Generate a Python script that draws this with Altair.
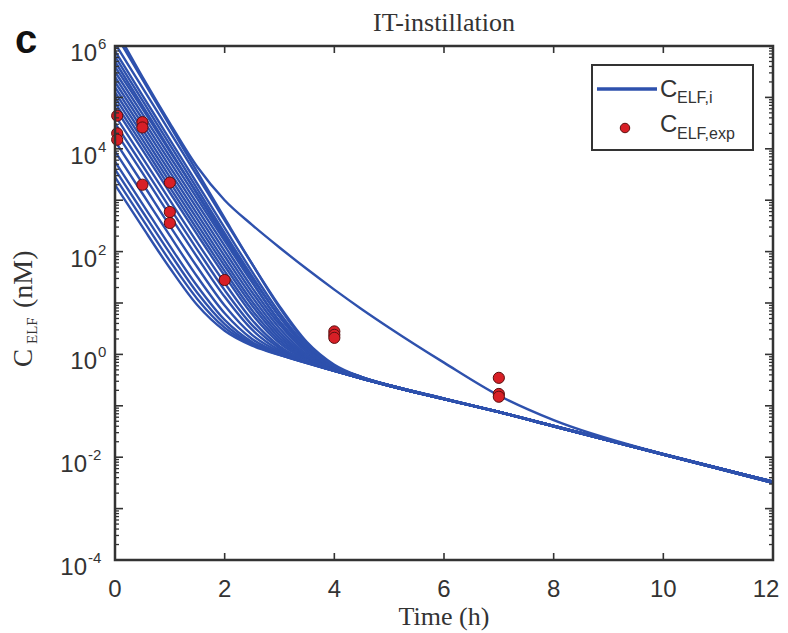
import altair as alt
import pandas as pd

W, H = 658, 514
BLUE = "#2e51ad"
RED = "#d81f26"
AX = "#333333"
SANS = "Liberation Sans"
SERIF = "Liberation Serif"

# time grid (h) for the model curves
TIMES = [0, 0.5, 1, 1.5, 2, 2.5, 3, 3.5, 4, 4.5, 5, 6, 7, 8, 10, 12]

# log10 of C_ELF (nM) for each simulated curve
CURVES_LOG10 = [
    [3.30, 2.48, 1.68, 0.96, 0.46, 0.17, -0.01, -0.17, -0.32, -0.47, -0.61, -0.87, -1.12, -1.40, -1.95, -2.50],
    [3.45, 2.63, 1.82, 1.08, 0.52, 0.19, -0.01, -0.17, -0.32, -0.47, -0.61, -0.87, -1.12, -1.39, -1.94, -2.48],
    [3.60, 2.78, 1.97, 1.20, 0.59, 0.21, 0.00, -0.16, -0.32, -0.47, -0.61, -0.87, -1.12, -1.40, -1.95, -2.50],
    [3.75, 2.93, 2.11, 1.33, 0.67, 0.24, 0.01, -0.16, -0.32, -0.47, -0.61, -0.87, -1.12, -1.39, -1.94, -2.48],
    [3.95, 3.13, 2.31, 1.51, 0.80, 0.30, 0.02, -0.16, -0.32, -0.47, -0.61, -0.87, -1.12, -1.40, -1.95, -2.49],
    [4.15, 3.33, 2.50, 1.70, 0.95, 0.38, 0.05, -0.15, -0.32, -0.47, -0.61, -0.87, -1.12, -1.39, -1.94, -2.48],
    [4.35, 3.53, 2.70, 1.89, 1.12, 0.48, 0.08, -0.15, -0.32, -0.47, -0.61, -0.87, -1.12, -1.40, -1.95, -2.50],
    [4.50, 3.68, 2.85, 2.04, 1.25, 0.57, 0.12, -0.14, -0.31, -0.47, -0.61, -0.87, -1.12, -1.39, -1.94, -2.48],
    [4.65, 3.83, 3.00, 2.18, 1.39, 0.67, 0.16, -0.13, -0.31, -0.47, -0.61, -0.87, -1.12, -1.40, -1.95, -2.49],
    [4.80, 3.98, 3.15, 2.33, 1.53, 0.78, 0.22, -0.11, -0.31, -0.47, -0.61, -0.87, -1.12, -1.39, -1.94, -2.48],
    [4.90, 4.08, 3.25, 2.43, 1.62, 0.86, 0.27, -0.09, -0.30, -0.46, -0.61, -0.87, -1.12, -1.40, -1.95, -2.50],
    [5.00, 4.18, 3.35, 2.53, 1.72, 0.95, 0.32, -0.07, -0.30, -0.46, -0.61, -0.87, -1.12, -1.39, -1.94, -2.48],
    [5.10, 4.28, 3.45, 2.63, 1.81, 1.03, 0.38, -0.05, -0.29, -0.46, -0.61, -0.87, -1.12, -1.40, -1.95, -2.49],
    [5.20, 4.38, 3.55, 2.73, 1.91, 1.12, 0.44, -0.03, -0.29, -0.46, -0.61, -0.87, -1.12, -1.39, -1.94, -2.48],
    [5.30, 4.48, 3.65, 2.83, 2.01, 1.21, 0.51, 0.00, -0.28, -0.46, -0.60, -0.87, -1.12, -1.40, -1.95, -2.50],
    [5.40, 4.58, 3.75, 2.93, 2.11, 1.30, 0.58, 0.04, -0.27, -0.45, -0.60, -0.86, -1.12, -1.39, -1.94, -2.48],
    [5.50, 4.68, 3.85, 3.03, 2.21, 1.40, 0.65, 0.08, -0.25, -0.45, -0.60, -0.86, -1.12, -1.40, -1.95, -2.49],
    [5.60, 4.78, 3.95, 3.13, 2.31, 1.49, 0.74, 0.13, -0.24, -0.44, -0.60, -0.86, -1.12, -1.39, -1.94, -2.48],
    [5.70, 4.84, 3.98, 3.12, 2.26, 1.42, 0.64, 0.06, -0.26, -0.45, -0.60, -0.86, -1.12, -1.40, -1.95, -2.50],
    [5.80, 4.94, 4.08, 3.22, 2.36, 1.52, 0.73, 0.11, -0.25, -0.45, -0.60, -0.86, -1.12, -1.39, -1.94, -2.48],
    [5.90, 5.04, 4.18, 3.32, 2.46, 1.61, 0.81, 0.16, -0.23, -0.44, -0.60, -0.86, -1.12, -1.40, -1.95, -2.49],
    [6.05, 5.19, 4.33, 3.47, 2.61, 1.76, 0.94, 0.24, -0.20, -0.44, -0.60, -0.86, -1.12, -1.39, -1.94, -2.48],
    [6.25, 5.35, 4.45, 3.55, 2.65, 1.76, 0.91, 0.20, -0.23, -0.44, -0.60, -0.86, -1.12, -1.40, -1.95, -2.50],
    [6.35, 5.40, 4.50, 3.65, 3.00, 2.52, 2.08, 1.66, 1.26, 0.88, 0.52, -0.16, -0.80, -1.28, -1.94, -2.47],
]

# experimental points
EXP_T = [0.04, 0.04, 0.04, 0.5, 0.5, 0.5, 1, 1, 1, 2, 4, 4, 4, 7, 7, 7]
EXP_C = [4.4e4, 2.0e4, 1.5e4, 3.3e4, 2.6e4, 2.0e3, 2.2e3, 590, 360, 28,
         2.8, 2.4, 2.1, 0.35, 0.17, 0.15]

X_TICKS = [0, 2, 4, 6, 8, 10, 12]
Y_LABEL_EXP = [-4, -2, 0, 2, 4, 6]
Y_DECADE_EXP = list(range(-4, 7))

rows = []
for i, curve in enumerate(CURVES_LOG10):
    for t, v in zip(TIMES, curve):
        rows.append({"curve": i, "t": t, "c": 10 ** v})
df_lines = pd.DataFrame(rows)
df_exp = pd.DataFrame({"t": EXP_T, "c": EXP_C})
df_xt = pd.DataFrame({"t": X_TICKS, "lab": [str(v) for v in X_TICKS]})
df_xl_in = df_xt[df_xt["t"] < 12]
df_xl_end = df_xt[df_xt["t"] == 12]
df_ymaj = pd.DataFrame({"v": [10.0 ** e for e in Y_DECADE_EXP]})
df_ymin = pd.DataFrame({"v": [k * 10.0 ** e for e in range(-4, 6) for k in range(2, 10)]})
df_ylab_pos = pd.DataFrame({"v": [10.0 ** e for e in Y_LABEL_EXP if e >= 0],
                            "e": [str(e) for e in Y_LABEL_EXP if e >= 0]})
df_ylab_neg = pd.DataFrame({"v": [10.0 ** e for e in Y_LABEL_EXP if e < 0],
                            "e": [str(e) for e in Y_LABEL_EXP if e < 0]})
one = pd.DataFrame({"k": [0]})

xs = alt.Scale(domain=[0, 12], nice=False, zero=False)
ys = alt.Scale(type="log", domain=[1e-4, 1e6], nice=False)
X = lambda f: alt.X(f, scale=xs, axis=None)
Y = lambda f: alt.Y(f, scale=ys, axis=None)

lines = alt.Chart(df_lines).mark_line(
    color=BLUE, strokeWidth=2.4, clip=True, interpolate="monotone"
).encode(x=X("t:Q"), y=Y("c:Q"), detail="curve:N")

points = alt.Chart(df_exp).mark_point(
    shape="circle", filled=True, fill=RED, stroke="#5a0f0f", strokeWidth=1,
    size=125, opacity=1
).encode(x=X("t:Q"), y=Y("c:Q"))

tick_style = dict(color=AX, strokeWidth=1.6)
xt_bot = alt.Chart(df_xt).mark_rule(**tick_style).encode(
    x=X("t:Q"), y=alt.value(H), y2=alt.value(H - 7))
xt_top = alt.Chart(df_xt).mark_rule(**tick_style).encode(
    x=X("t:Q"), y=alt.value(0), y2=alt.value(7))
yt_l = alt.Chart(df_ymaj).mark_rule(**tick_style).encode(
    y=Y("v:Q"), x=alt.value(0), x2=alt.value(8))
yt_r = alt.Chart(df_ymaj).mark_rule(**tick_style).encode(
    y=Y("v:Q"), x=alt.value(W), x2=alt.value(W - 8))
ym_l = alt.Chart(df_ymin).mark_rule(color=AX, strokeWidth=1.3).encode(
    y=Y("v:Q"), x=alt.value(0), x2=alt.value(4))
ym_r = alt.Chart(df_ymin).mark_rule(color=AX, strokeWidth=1.3).encode(
    y=Y("v:Q"), x=alt.value(W), x2=alt.value(W - 4))

frame = alt.Chart(one).mark_rect(stroke=AX, strokeWidth=2.5, fillOpacity=0).encode(
    x=alt.value(0), x2=alt.value(W), y=alt.value(0), y2=alt.value(H))

# tick labels
xlab = alt.Chart(df_xl_in).mark_text(
    font=SANS, fontSize=24, color=AX, align="center", baseline="alphabetic"
).encode(x=X("t:Q"), y=alt.value(H + 37), text="lab:N")
xlab_end = alt.Chart(df_xl_end).mark_text(
    font=SANS, fontSize=24, color=AX, align="center", baseline="alphabetic", dx=-7
).encode(x=X("t:Q"), y=alt.value(H + 37), text="lab:N")

ten_pos = alt.Chart(df_ylab_pos).mark_text(
    text="10", font=SANS, fontSize=24, color=AX, align="right", baseline="alphabetic", dy=15
).encode(y=Y("v:Q"), x=alt.value(-18))
exp_pos = alt.Chart(df_ylab_pos).mark_text(
    font=SANS, fontSize=15, color=AX, align="left", baseline="alphabetic", dy=3
).encode(y=Y("v:Q"), x=alt.value(-17), text="e:N")
ten_neg = alt.Chart(df_ylab_neg).mark_text(
    text="10", font=SANS, fontSize=24, color=AX, align="right", baseline="alphabetic", dy=15
).encode(y=Y("v:Q"), x=alt.value(-28))
exp_neg = alt.Chart(df_ylab_neg).mark_text(
    font=SANS, fontSize=15, color=AX, align="left", baseline="alphabetic", dy=3
).encode(y=Y("v:Q"), x=alt.value(-27), text="e:N")


def txt(s, x, y, size, font=SERIF, align="left", angle=0, weight="normal", color=AX):
    kw = dict(text=s, font=font, fontSize=size, color=color, align=align,
              baseline="alphabetic", fontWeight=weight)
    if angle:
        kw["angle"] = angle
    return alt.Chart(one).mark_text(**kw).encode(x=alt.value(x), y=alt.value(y))


title = txt("IT-instillation", W / 2, -15, 26, align="center")
panel = txt("c", -100, 7, 40, font=SANS, weight="bold", color="#111111")
xtitle = txt("Time (h)", W / 2, 579, 26, align="center")
yt_c = txt("C", -83, 321, 27, angle=270)
yt_sub = txt("ELF", -78, 298, 15, angle=270)
yt_unit = txt("(nM)", -83, 262, 28, angle=270)

# legend
leg_box = alt.Chart(one).mark_rect(stroke=AX, strokeWidth=2, fill="white").encode(
    x=alt.value(477), x2=alt.value(638), y=alt.value(19), y2=alt.value(104))
leg_line = alt.Chart(one).mark_rule(color=BLUE, strokeWidth=3.5).encode(
    x=alt.value(482), x2=alt.value(542), y=alt.value(43))
leg_pt = alt.Chart(one).mark_point(
    shape="circle", filled=True, fill=RED, stroke="#5a0f0f", strokeWidth=1, size=90, opacity=1
).encode(x=alt.value(510), y=alt.value(82))
leg_t1 = txt("C", 545, 51, 24, font=SANS)
leg_s1 = txt("ELF,i", 562, 57, 16, font=SANS)
leg_t2 = txt("C", 545, 86, 24, font=SANS)
leg_s2 = txt("ELF,exp", 562, 93, 16, font=SANS)

chart = alt.layer(
    lines, points, xt_bot, xt_top, yt_l, yt_r, ym_l, ym_r, frame,
    xlab, xlab_end, ten_pos, exp_pos, ten_neg, exp_neg,
    title, panel, xtitle, yt_c, yt_sub, yt_unit,
    leg_box, leg_line, leg_pt, leg_t1, leg_s1, leg_t2, leg_s2,
).properties(
    width=W, height=H,
    padding={"left": 107, "top": 38, "right": 7, "bottom": 73},
    autosize=alt.AutoSizeParams(type="none"),
).configure_view(stroke="transparent")

chart.save("out.html", embed_options={"renderer": "svg", "actions": False})
